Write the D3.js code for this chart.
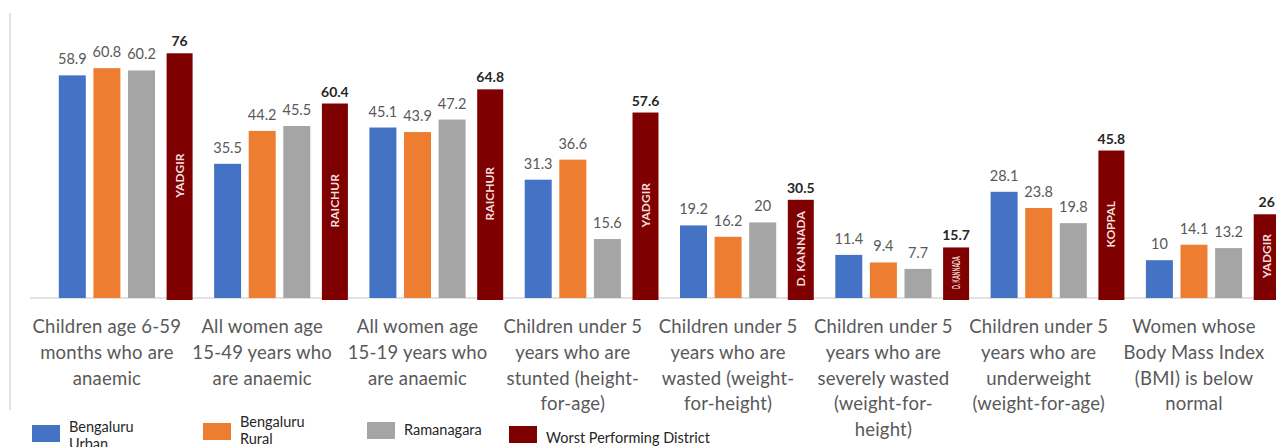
<!DOCTYPE html>
<html>
<head>
<meta charset="utf-8">
<script src="https://cdn.jsdelivr.net/npm/d3@7"></script>
<style>
  body { margin: 0; background: #fff; }
  svg { display: block; font-family: Lato, "Open Sans", sans-serif; }
</style>
</head>
<body>
<div id="chart"></div>
<script>
// indicator labels, already broken into lines as in the source
const categories = [
    ['Children age 6-59', 'months who are', 'anaemic'],
    ['All women age', '15-49 years who', 'are anaemic'],
    ['All women age', '15-19 years who', 'are anaemic'],
    ['Children under 5', 'years who are', 'stunted (height-', 'for-age)'],
    ['Children under 5', 'years who are', 'wasted (weight-', 'for-height)'],
    ['Children under 5', 'years who are', 'severely wasted', '(weight-for-', 'height)'],
    ['Children under 5', 'years who are', 'underweight', '(weight-for-age)'],
    ['Women whose', 'Body Mass Index', '(BMI) is below', 'normal']
];

const seriesNames = ['Bengaluru Urban', 'Bengaluru Rural', 'Ramanagara'];
const bengaluruUrban = [58.9, 35.5, 45.1, 31.3, 19.2, 11.4, 28.1, 10];
const bengaluruRural = [60.8, 44.2, 43.9, 36.6, 16.2, 9.4, 23.8, 14.1];
const ramanagara = [60.2, 45.5, 47.2, 15.6, 20, 7.7, 19.8, 13.2];

const worstValues = [76, 60.4, 64.8, 57.6, 30.5, 15.7, 45.8, 26];
const worstDistricts = ['YADGIR', 'RAICHUR', 'RAICHUR', 'YADGIR', 'D. KANNADA', 'D. KANNADA', 'KOPPAL', 'YADGIR'];

const colors = ['#4472c4', '#ed7d31', '#a5a5a5'];
const worstColor = '#7f0000';

const width = 1276, height = 447;
const baseline = 298;

const svg = d3.select('#chart').append('svg')
    .attr('width', width)
    .attr('height', height);

svg.append('rect').attr('width', width).attr('height', height).attr('fill', '#fff');

// thin frame line on the left
svg.append('line')
    .attr('x1', 10).attr('x2', 10)
    .attr('y1', 13).attr('y2', 410)
    .attr('stroke', '#d9d9d9').attr('stroke-width', 1.5);

const keys = categories.map((d, i) => i);

// group scale
const x0 = d3.scaleBand()
    .domain(keys)
    .range([30, 30 + 8 * 155.3]);

// series inside a group
const x1 = d3.scaleBand()
    .domain(seriesNames)
    .range([25, 25 + 3 * 34.6])
    .paddingInner(0.22)
    .paddingOuter(0.11);

// main axis
const y = d3.scaleLinear()
    .domain([0, 80])
    .range([baseline, baseline - 80 * 3.78]);

// worst district bars sit on their own (secondary) axis in the source
const yWorst = d3.scaleLinear()
    .domain([0, 80])
    .range([baseline, baseline - 80 * 3.22]);

// baseline
svg.append('line')
    .attr('x1', 30).attr('x2', width - 6)
    .attr('y1', baseline).attr('y2', baseline)
    .attr('stroke', '#d9d9d9').attr('stroke-width', 1.5);

const rows = keys.map(i => ({
    i: i,
    values: [bengaluruUrban[i], bengaluruRural[i], ramanagara[i]],
    worst: worstValues[i],
    district: worstDistricts[i]
}));

const groups = svg.selectAll('.group')
    .data(rows)
    .join('g')
    .attr('class', 'group')
    .attr('transform', d => `translate(${x0(d.i)},0)`);

const bars = groups.selectAll('.bar')
    .data(d => d.values.map((v, s) => ({ v: v, s: s })))
    .join('g')
    .attr('class', 'bar');

bars.append('rect')
    .attr('x', d => x1(seriesNames[d.s]))
    .attr('width', x1.bandwidth())
    .attr('y', d => y(d.v))
    .attr('height', d => baseline - y(d.v))
    .attr('fill', d => colors[d.s]);

bars.append('text')
    .attr('x', d => x1(seriesNames[d.s]) + x1.bandwidth() / 2)
    .attr('y', d => y(d.v) - 11)
    .attr('text-anchor', 'middle')
    .attr('font-size', 14.5)
    .attr('fill', '#595959')
    .text(d => d.v);

// worst performing district bar
const worstX = x1('Ramanagara') + x1.step() + 4;
const worstW = x1.bandwidth() - 1;

groups.append('rect')
    .attr('x', worstX)
    .attr('width', worstW)
    .attr('y', d => yWorst(d.worst))
    .attr('height', d => baseline + 2 - yWorst(d.worst))
    .attr('fill', worstColor);

groups.append('text')
    .attr('x', worstX + worstW / 2)
    .attr('y', d => yWorst(d.worst) - 7)
    .attr('text-anchor', 'middle')
    .attr('font-size', 14)
    .attr('font-weight', 'bold')
    .attr('fill', '#262626')
    .text(d => d.worst);

groups.append('text')
    .attr('class', 'district')
    .attr('transform', d => {
        const cy = (yWorst(d.worst) + baseline) / 2;
        return `translate(${worstX + worstW / 2 + 4},${cy}) rotate(-90)`;
    })
    .attr('text-anchor', 'middle')
    .attr('font-size', 12)
    .attr('font-weight', 'bold')
    .attr('fill', '#f4dede')
    .text(d => d.district)
    .each(function (d) {
        const room = baseline - yWorst(d.worst) - 18;
        if (this.getComputedTextLength() > room) {
            d3.select(this)
                .attr('textLength', room)
                .attr('lengthAdjust', 'spacingAndGlyphs');
        }
    });

// category labels under the three main bars
const labelCx = (x1(seriesNames[0]) + x1(seriesNames[2]) + x1.bandwidth()) / 2;
groups.append('text')
    .attr('text-anchor', 'middle')
    .attr('font-size', 18.5)
    .attr('letter-spacing', 0.2)
    .attr('fill', '#595959')
    .selectAll('tspan')
    .data(d => categories[d.i])
    .join('tspan')
    .attr('x', labelCx)
    .attr('y', (d, k) => 333 + k * 25.8)
    .text(d => d);

// legend
const legendItems = [
    { name: ['Bengaluru', 'Urban'], color: colors[0], x: 32, sy: 425, ty: 432 },
    { name: ['Bengaluru', 'Rural'], color: colors[1], x: 203, sy: 423, ty: 427 },
    { name: ['Ramanagara'], color: colors[2], x: 367, sy: 422, ty: 435 },
    { name: ['Worst Performing District'], color: worstColor, x: 509, sy: 426, ty: 443 }
];

const legend = svg.selectAll('.legend')
    .data(legendItems)
    .join('g')
    .attr('class', 'legend');

legend.append('rect')
    .attr('x', d => d.x)
    .attr('y', d => d.sy)
    .attr('width', 28)
    .attr('height', 17)
    .attr('fill', d => d.color);

legend.append('text')
    .attr('font-size', 14.5)
    .attr('fill', '#262626')
    .selectAll('tspan')
    .data(d => d.name.map((n, k) => ({ n: n, k: k, p: d })))
    .join('tspan')
    .attr('x', d => d.p.x + 37)
    .attr('y', d => d.p.ty + d.k * 17)
    .text(d => d.n);
</script>
</body>
</html>
